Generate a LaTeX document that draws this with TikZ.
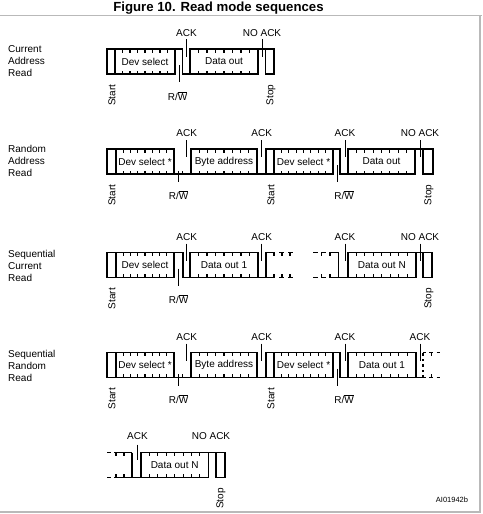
\documentclass[tikz,border=0pt]{standalone}
\usepackage{fontspec}
\setmainfont{Liberation Sans}
\tikzset{
  wave/.style={line width=1.6pt, line join=miter},
  dwave/.style={line width=1.6pt, dash pattern=on 2.5pt off 3pt},
  bittick/.style={line width=1.1pt},
  mk/.style={line width=0.9pt},
  lbl/.style={font=\fontsize{10}{12}\selectfont, inner sep=0pt},
  rlbl/.style={lbl, rotate=90, anchor=east},
  side/.style={lbl, align=left, anchor=west},
  frame/.style={draw=gray!55, line width=1.3pt}
}
\newcommand\bitbox[5]{%
  \draw[wave] (#2,#4) rectangle (#3,#4+25);
  \foreach \k in {1,...,7}{%
    \pgfmathsetmacro\xx{#2+(#3-#2)*\k/8}
    \draw[bittick] (\xx,#4) -- (\xx,#4+3.5);
    \draw[bittick] (\xx,#4+25) -- (\xx,#4+21.5);
  }
  \node[lbl] (#1) at ({(#2+#3)/2},#4+12.5) {#5};
}
\newcommand\rw{R/\kern0pt\vbox{\hrule height 0.6pt\kern1.2pt\hbox{W}}}
\begin{document}
\begin{tikzpicture}[x=1pt,y=-1pt]
\useasboundingbox (0,0) rectangle (482,514);
% frame and title
\node[font=\bfseries\fontsize{13.2}{15}\selectfont, inner sep=0pt] (title) at (218.5,8) {Figure 10. Read mode sequences};
\draw[frame] (0,15.5) -- (482,15.5);
\draw[frame] (480,15.5) -- (480,512) -- (0,512);

% ================= Row 1 : Current Address Read (T=49, B=74)
\node[side] (lab1) at (8,61.5) {Current\\Address\\Read};
\draw[wave] (107,49) rectangle (115,74);
\bitbox{ds1}{115}{175}{49}{Dev select}
\draw[wave] (175,49) -- (182.5,49) -- (182.5,74) -- (190,74);
\bitbox{do1}{190}{258}{49}{Data out}
\draw[wave] (258,49) -- (265.5,49);
\draw[wave] (265.5,49) rectangle (274,74);
\draw[mk] (186.5,39) -- (186.5,57);
\draw[mk] (262,39) -- (262,57);
\draw[mk] (179,65) -- (179,82);
\node[lbl] (ack1) at (186.5,33) {ACK};
\node[lbl] (nack1) at (262,33) {NO ACK};
\node[lbl] (rw1) at (177.5,96.5) {\rw};
\node[rlbl] (start1) at (112,84.5) {Start};
\node[rlbl] (stop1) at (271,84.5) {Stop};

% ================= Row 2 : Random Address Read (T=149, B=174)
\node[side] (lab2) at (8,160.5) {Random\\Address\\Read};
\draw[wave] (107,149) rectangle (116,174);
\bitbox{ds2a}{116}{174}{149}{Dev select *}
\draw[wave] (174,174) -- (191,174);
\draw[bittick] (182.5,174) -- (182.5,170.5);
\bitbox{ba2}{191}{257}{149}{Byte address}
\draw[wave] (257,174) -- (266,174);
\draw[wave] (266,149) rectangle (274,174);
\bitbox{ds2b}{274}{333}{149}{Dev select *}
\draw[wave] (333,149) -- (340,149) -- (340,174) -- (348,174);
\bitbox{do2}{348}{415}{149}{Data out}
\draw[wave] (415,149) -- (423,149);
\draw[wave] (423,149) rectangle (433,174);
\draw[mk] (186.7,140) -- (186.7,157);
\draw[mk] (261.7,140) -- (261.7,157);
\draw[mk] (345,140) -- (345,157);
\draw[mk] (420,140) -- (420,157);
\draw[mk] (178.3,170.5) -- (178.3,182);
\draw[mk] (337,165) -- (337,182);
\node[lbl] (ack2a) at (186.7,133.5) {ACK};
\node[lbl] (ack2b) at (261.7,133.5) {ACK};
\node[lbl] (ack2c) at (345,133.5) {ACK};
\node[lbl] (nack2) at (420,133.5) {NO ACK};
\node[lbl] (rw2a) at (178.5,195) {\rw};
\node[lbl] (rw2b) at (344,195) {\rw};
\node[rlbl] (start2a) at (112,184.5) {Start};
\node[rlbl] (start2b) at (271,184.5) {Start};
\node[rlbl] (stop2) at (429,184.5) {Stop};

% ================= Row 3 : Sequential Current Read (T=252.5, B=277.5)
\node[side] (lab3) at (8,266) {Sequential\\Current\\Read};
\draw[wave] (107,252.5) rectangle (116,277.5);
\bitbox{ds3}{116}{174}{252.5}{Dev select}
\draw[wave] (174,252.5) -- (182.7,252.5) -- (182.7,277.5) -- (190,277.5);
\bitbox{do3a}{190}{258}{252.5}{Data out 1}
\draw[wave] (258,277.5) -- (265.7,277.5) -- (265.7,252.5) -- (275,252.5);
\draw[wave] (265.7,277.5) -- (275,277.5);
\foreach \y/\d in {252.5/3.5, 277.5/-3.5}{
  \draw[wave] (279,\y) -- (284,\y);
  \draw[wave] (288,\y) -- (292.5,\y);
  \draw[wave] (313,\y) -- (317.5,\y);
  \draw[wave] (321,\y) -- (326,\y);
  \foreach \x in {274,282,290,321.5,330}{\draw[bittick] (\x,\y) -- (\x,\y+\d);}
}
\draw[wave] (329,252.5) -- (338.3,252.5) -- (338.3,277.5) -- (348,277.5);
\draw[wave] (329,277.5) -- (338.3,277.5);
\bitbox{do3b}{348}{415.7}{252.5}{Data out N}
\draw[wave] (415.7,252.5) -- (423,252.5);
\draw[wave] (423,252.5) rectangle (432,277.5);
\draw[mk] (186.7,243.5) -- (186.7,260.5);
\draw[mk] (261.7,243.5) -- (261.7,260.5);
\draw[mk] (345,243.5) -- (345,260.5);
\draw[mk] (420,243.5) -- (420,260.5);
\draw[mk] (178.3,268.5) -- (178.3,285.5);
\node[lbl] (ack3a) at (186.7,237) {ACK};
\node[lbl] (ack3b) at (261.7,237) {ACK};
\node[lbl] (ack3c) at (345,237) {ACK};
\node[lbl] (nack3) at (420,237) {NO ACK};
\node[lbl] (rw3) at (178.5,299.5) {\rw};
\node[rlbl] (start3) at (112,288) {Start};
\node[rlbl] (stop3) at (429,288) {Stop};

% ================= Row 4 : Sequential Random Read (T=352.5, B=377.5)
\node[side] (lab4) at (8,366) {Sequential\\Random\\Read};
\draw[wave] (107,352.5) rectangle (116,377.5);
\bitbox{ds4a}{116}{174}{352.5}{Dev select *}
\draw[wave] (174,377.5) -- (191,377.5);
\draw[bittick] (182.5,377.5) -- (182.5,374);
\bitbox{ba4}{191}{257}{352.5}{Byte address}
\draw[wave] (257,377.5) -- (266,377.5);
\draw[wave] (266,352.5) rectangle (274,377.5);
\bitbox{ds4b}{274}{333}{352.5}{Dev select *}
\draw[wave] (333,352.5) -- (340,352.5) -- (340,377.5) -- (348,377.5);
\bitbox{do4}{348}{415.7}{352.5}{Data out 1}
\draw[wave] (415.7,377.5) -- (423,377.5);
\draw[dwave] (423,377.5) -- (423,352.5);
\foreach \y/\d in {352.5/3.5, 377.5/-3.5}{
  \draw[wave] (423,\y) -- (425.5,\y);
  \draw[wave] (429,\y) -- (433,\y);
  \draw[wave] (436.5,\y) -- (440,\y);
  \draw[bittick] (431.5,\y) -- (431.5,\y+\d);
}
\draw[mk] (186.7,343.5) -- (186.7,360.5);
\draw[mk] (261.7,343.5) -- (261.7,360.5);
\draw[mk] (345,343.5) -- (345,360.5);
\draw[mk] (420,343.5) -- (420,360.5);
\draw[mk] (178.3,374) -- (178.3,385.5);
\draw[mk] (337,368.5) -- (337,385.5);
\node[lbl] (ack4a) at (186.7,337) {ACK};
\node[lbl] (ack4b) at (261.7,337) {ACK};
\node[lbl] (ack4c) at (345,337) {ACK};
\node[lbl] (ack4d) at (420,337) {ACK};
\node[lbl] (rw4a) at (178.5,399.5) {\rw};
\node[lbl] (rw4b) at (344,399.5) {\rw};
\node[rlbl] (start4a) at (112,388) {Start};
\node[rlbl] (start4b) at (271,388) {Start};

% ================= Row 5 : continuation (T=452.5, B=477.5)
\foreach \y/\d in {452.5/3.5, 477.5/-3.5}{
  \draw[wave] (107,\y) -- (110.5,\y);
  \draw[wave] (114,\y) -- (132,\y);
  \foreach \x in {116,124}{\draw[bittick] (\x,\y) -- (\x,\y+\d);}
}
\draw[wave] (132,452.5) -- (132,477.5) -- (141,477.5);
\bitbox{do5}{141}{208.3}{452.5}{Data out N}
\draw[wave] (208.3,452.5) -- (216,452.5);
\draw[wave] (216,452.5) rectangle (224.7,477.5);
\draw[mk] (137,444.5) -- (137,460);
\node[lbl] (ack5) at (137.5,436.5) {ACK};
\node[lbl] (nack5) at (211,436.5) {NO ACK};
\node[rlbl] (stop5) at (221,488) {Stop};
\node[font=\fontsize{7.5}{9}\selectfont, inner sep=0pt] (code) at (452,500) {AI01942b};
\end{tikzpicture}
\end{document}
